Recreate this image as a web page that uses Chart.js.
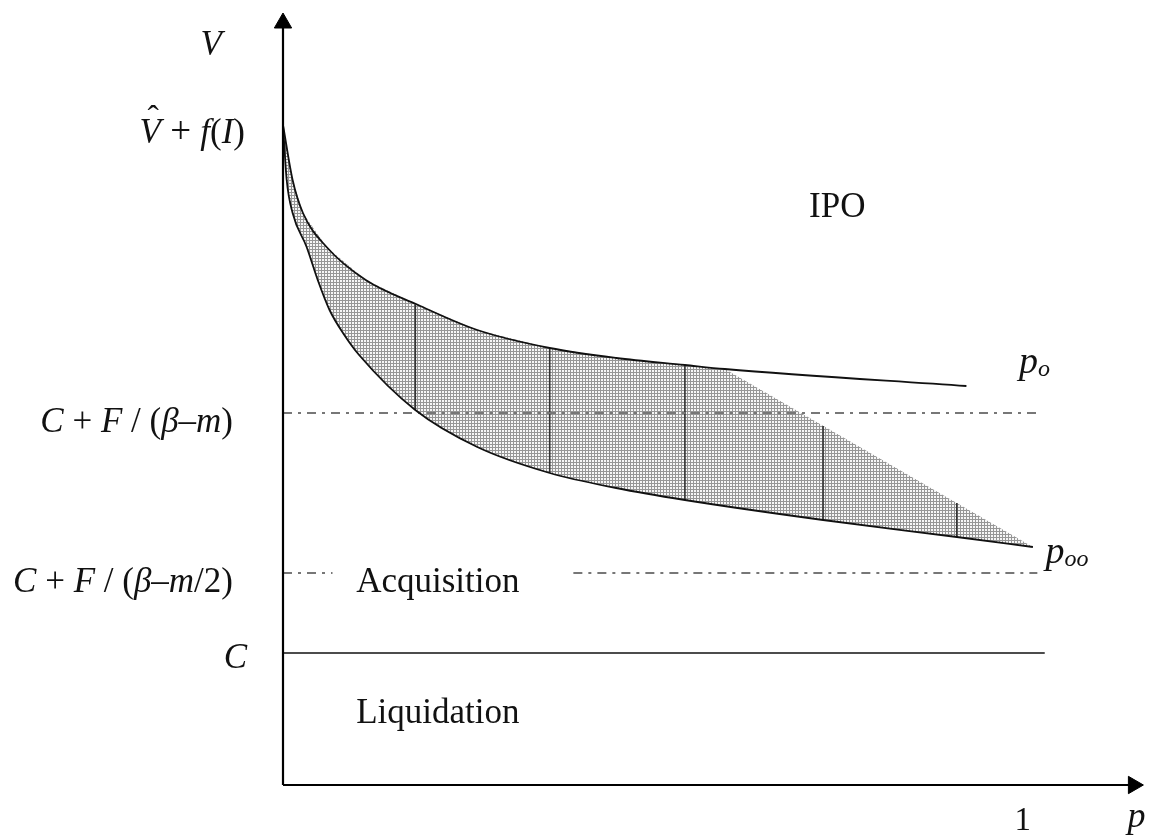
<!DOCTYPE html>
<html>
<head>
<meta charset="utf-8">
<style>
  html, body { margin: 0; padding: 0; background: #fff; }
</style>
</head>
<body>
<canvas id="chart" width="1154" height="837"></canvas>
<script src="https://cdn.jsdelivr.net/npm/chart.js@4.4.1/dist/chart.umd.min.js"></script>
<script>
// p (x) and V (y)
const upperP = [0, 0.013, 0.027, 0.059, 0.112, 0.183, 0.263, 0.361, 0.451, 0.544, 0.598, 0.925];
const upperV = [6.60, 6.05, 5.72, 5.38, 5.05, 4.80, 4.55, 4.37, 4.27, 4.20, 4.16, 3.99];
const lowerP = [0, 0.005, 0.013, 0.032, 0.047, 0.063, 0.083, 0.103, 0.179, 0.263, 0.361, 0.451, 0.544, 0.731, 0.912, 1.015];
const lowerV = [6.60, 6.05, 5.72, 5.38, 5.05, 4.75, 4.50, 4.30, 3.75, 3.38, 3.12, 2.97, 2.85, 2.65, 2.48, 2.38];

// band leaves the p_o curve at this point and runs straight to the end of p_oo
const breakIndex = 10;

// dark vertical strokes inside the band
const stripeP = [0.179, 0.361, 0.544, 0.731, 0.912];
const stripeTop = [4.80, 4.37, 4.20, 3.59, 2.82];
const stripeBottom = [3.75, 3.12, 2.85, 2.65, 2.48];

// horizontal levels
const levelIPO = 3.72;   // C + F/(beta-m)
const levelAcq = 2.12;   // C + F/(beta-m/2)
const levelC = 1.32;     // C
const cEnd = 1.031;
const dashEnd = 1.021;
const acqGap = [0.067, 0.393];

// axis extents
const axisTopV = 7.62;
const axisEndP = 1.151;

const toPts = (xs, ys) => xs.map((x, i) => ({ x: x, y: ys[i] }));

// stipple pattern for the shaded band
const tile = document.createElement("canvas");
tile.width = 3;
tile.height = 3;
const tc = tile.getContext("2d");
tc.fillStyle = "#969696";
tc.fillRect(0, 0, 3, 3);
tc.fillStyle = "#f6f6f6";
tc.fillRect(1, 1, 2, 2);
const ctxMain = document.getElementById("chart").getContext("2d");
const stipple = ctxMain.createPattern(tile, "repeat");

const bandTop = toPts(upperP.slice(0, breakIndex + 1), upperV.slice(0, breakIndex + 1))
  .concat([{ x: lowerP[lowerP.length - 1], y: lowerV[lowerV.length - 1] }]);

const plain = { pointRadius: 0, showLine: true, clip: false, fill: false };
const dashDot = [9, 6, 3, 6];

const datasets = [
  // 0: shaded band, filled down to dataset 1
  Object.assign({}, plain, {
    data: bandTop, borderWidth: 0, borderColor: "rgba(0,0,0,0)",
    backgroundColor: stipple, fill: 1, order: 20, tension: 0
  }),
  // 1: p_oo curve
  Object.assign({}, plain, {
    data: toPts(lowerP, lowerV), borderColor: "#111", borderWidth: 1.8,
    cubicInterpolationMode: "monotone", order: 5
  }),
  // 2: p_o curve
  Object.assign({}, plain, {
    data: toPts(upperP, upperV), borderColor: "#111", borderWidth: 1.8,
    cubicInterpolationMode: "monotone", order: 5
  })
];

stripeP.forEach((p, i) => {
  datasets.push(Object.assign({}, plain, {
    data: [{ x: p, y: stripeTop[i] }, { x: p, y: stripeBottom[i] }],
    borderColor: "#333", borderWidth: 1.6, order: 8
  }));
});

datasets.push(Object.assign({}, plain, {
  data: [{ x: 0, y: levelIPO }, { x: dashEnd, y: levelIPO }],
  borderColor: "#777", borderWidth: 2, borderDash: dashDot, order: 7
}));
datasets.push(Object.assign({}, plain, {
  data: [{ x: 0, y: levelAcq }, { x: acqGap[0], y: levelAcq }],
  borderColor: "#777", borderWidth: 2, borderDash: dashDot, order: 7
}));
datasets.push(Object.assign({}, plain, {
  data: [{ x: acqGap[1], y: levelAcq }, { x: dashEnd, y: levelAcq }],
  borderColor: "#777", borderWidth: 2, borderDash: dashDot, order: 7
}));
datasets.push(Object.assign({}, plain, {
  data: [{ x: 0, y: levelC }, { x: cEnd, y: levelC }],
  borderColor: "#111", borderWidth: 1.6, order: 6
}));

// axes with arrow heads
datasets.push(Object.assign({}, plain, {
  data: [{ x: 0, y: 0 }, { x: 0, y: axisTopV }],
  borderColor: "#000", borderWidth: 2.2, order: 1,
  pointStyle: "triangle", pointRadius: [0, 10], pointRotation: [0, 0],
  pointBackgroundColor: "#000", pointBorderColor: "#000", pointBorderWidth: 1
}));
datasets.push(Object.assign({}, plain, {
  data: [{ x: 0, y: 0 }, { x: axisEndP, y: 0 }],
  borderColor: "#000", borderWidth: 2.2, order: 1,
  pointStyle: "triangle", pointRadius: [0, 10], pointRotation: [0, 90],
  pointBackgroundColor: "#000", pointBorderColor: "#000", pointBorderWidth: 1
}));

const serif = '"Liberation Serif", "Times New Roman", serif';

// draws a run of text pieces; each piece is [text, italic, size, dy]
function rich(ctx, parts, x, y, align) {
  const font = p => (p[1] ? "italic " : "") + p[2] + "px " + serif;
  let w = 0;
  parts.forEach(p => { ctx.font = font(p); w += ctx.measureText(p[0]).width; });
  let cx = align === "right" ? x - w : x;
  const starts = [];
  parts.forEach(p => {
    ctx.font = font(p);
    starts.push(cx);
    ctx.fillText(p[0], cx, y + (p[3] || 0));
    cx += ctx.measureText(p[0]).width;
  });
  return starts;
}

const labels = {
  id: "labels",
  afterDraw(chart) {
    const ctx = chart.ctx;
    const xs = chart.scales.x, ys = chart.scales.y;
    const ax = xs.getPixelForValue(0);
    const X = v => xs.getPixelForValue(v);
    const Y = v => ys.getPixelForValue(v);
    ctx.save();
    ctx.fillStyle = "#111";
    ctx.textBaseline = "alphabetic";

    // axis titles
    rich(ctx, [["V", 1, 35]], ax - 61, Y(7.30), "right");
    rich(ctx, [["p", 1, 36]], X(1.143), Y(-0.42), "left");
    ctx.textAlign = "center";
    ctx.font = "33px " + serif;
    ctx.fillText("1", X(1.0) + 1, Y(-0.45));
    ctx.textAlign = "left";

    // left-side level labels
    const s = 35;
    const top = rich(ctx, [["V", 1, s], [" + ", 0, s + 2], ["f", 1, s], ["(", 0, s], ["I", 1, s], [")", 0, s]],
      ax - 38, Y(upperV[0]) + 18, "right");
    ctx.font = "34px " + serif;
    ctx.fillText("\u02C6", top[0] + 8, Y(upperV[0]) + 4);

    rich(ctx, [["C", 1, s], [" + ", 0, s], ["F", 1, s], [" / (", 0, s], ["\u03B2", 1, s],
      ["\u2013", 0, s], ["m", 1, s], [")", 0, s]], ax - 50, Y(levelIPO) + 19, "right");
    rich(ctx, [["C", 1, s], [" + ", 0, s], ["F", 1, s], [" / (", 0, s], ["\u03B2", 1, s],
      ["\u2013", 0, s], ["m", 1, s], ["/2)", 0, s]], ax - 50, Y(levelAcq) + 19, "right");
    rich(ctx, [["C", 1, s]], ax - 36, Y(levelC) + 15, "right");

    // region names
    rich(ctx, [["IPO", 0, 35]], X(0.712), Y(5.68), "left");
    rich(ctx, [["Acquisition", 0, 35]], X(0.099), Y(1.93), "left");
    rich(ctx, [["Liquidation", 0, 35]], X(0.099), Y(0.62), "left");

    // curve names
    rich(ctx, [["p", 1, 38], ["o", 1, 24, 3]], X(0.996), Y(4.12), "left");
    rich(ctx, [["p", 1, 38], ["oo", 1, 24, 3]], X(1.032), Y(2.22), "left");
    ctx.restore();
  }
};

new Chart(ctxMain, {
  type: "scatter",
  data: { datasets: datasets },
  options: {
    responsive: false,
    animation: false,
    events: [],
    layout: { padding: { left: 283, right: 0, top: 12, bottom: 52 } },
    scales: {
      x: { type: "linear", min: 0, max: 1.164, display: false },
      y: { type: "linear", min: 0, max: 7.73, display: false }
    },
    plugins: {
      legend: { display: false },
      tooltip: { enabled: false }
    }
  },
  plugins: [labels]
});
</script>
</body>
</html>
